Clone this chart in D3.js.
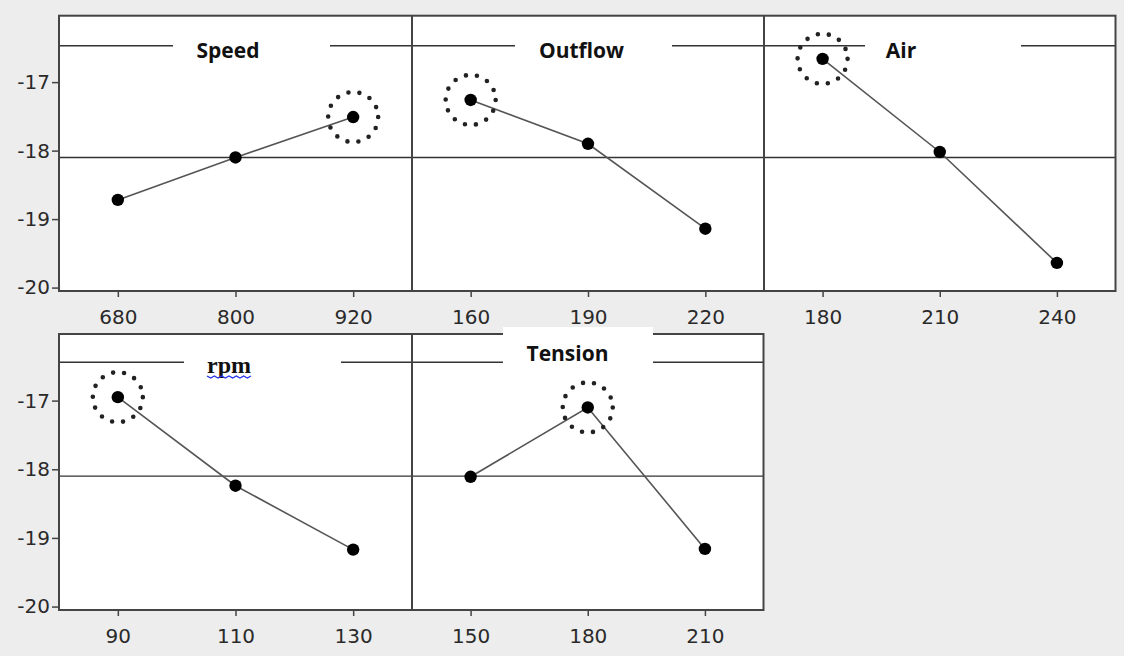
<!DOCTYPE html>
<html>
<head>
<meta charset="utf-8">
<script src="https://cdn.jsdelivr.net/npm/d3@7"></script>
<style>
  body { margin: 0; background: #ededed; }
  svg { display: block; }
  .tick text { font-family: "DejaVu Sans", sans-serif; font-size: 20px; fill: #2a2a2a; }
  .tick line { stroke: #444; stroke-width: 1.5; }
  .domain { display: none; }
</style>
</head>
<body>
<div id="chart"></div>
<script>
// factor names
var factors = ["Speed", "Outflow", "Air", "rpm", "Tension"];

// levels of each factor (x tick labels)
var speedLevels = [680, 800, 920];
var outflowLevels = [160, 190, 220];
var airLevels = [180, 210, 240];
var rpmLevels = [90, 110, 130];
var tensionLevels = [150, 180, 210];

// mean of S/N ratios at each level
var speedMeans = [-18.72, -18.10, -17.51];
var outflowMeans = [-17.26, -17.90, -19.14];
var airMeans = [-16.66, -18.02, -19.64];
var rpmMeans = [-16.95, -18.24, -19.17];
var tensionMeans = [-18.11, -17.10, -19.16];

// circled (optimal) level of each factor
var bestLevels = [920, 160, 180, 90, 180];

var grandMean = -18.1;
var yTicks = [-17, -18, -19, -20];
var yDomain = [-20.05, -16.03];

var allLevels = [speedLevels, outflowLevels, airLevels, rpmLevels, tensionLevels];
var allMeans = [speedMeans, outflowMeans, airMeans, rpmMeans, tensionMeans];

var svgWidth = 1124;
var svgHeight = 656;

// rows of panels
var rows = [
  { top: 15.7, bottom: 291, edges: [59, 412, 764, 1115.5], titleY: 30 },
  { top: 334, bottom: 610, edges: [59, 412, 763.5], titleY: 28.3 }
];

// where each title sits inside its panel (relative to panel left / top)
var titleLayout = [
  { row: 0, col: 0, cx: 169, base: 42, gap: [114, 271] },
  { row: 0, col: 1, cx: 169.5, base: 42, gap: [103, 260] },
  { row: 0, col: 2, cx: 137, base: 42, gap: [101, 257] },
  { row: 1, col: 0, cx: 170, base: 39, gap: [125, 282] },
  { row: 1, col: 1, cx: 155.5, base: 27, gap: [91, 241], box: true }
];

var svg = d3.select("#chart")
  .append("svg")
  .attr("width", svgWidth)
  .attr("height", svgHeight);

svg.append("rect")
  .attr("width", svgWidth)
  .attr("height", svgHeight)
  .attr("fill", "#ededed");

rows.forEach(function(r, ri) {
  var left = r.edges[0], right = r.edges[r.edges.length - 1];
  r.y = d3.scaleLinear().domain(yDomain).range([r.bottom, r.top]);

  var g = svg.append("g");
  r.g = g;

  // white plot area
  g.append("rect")
    .attr("x", left).attr("y", r.top)
    .attr("width", right - left).attr("height", r.bottom - r.top)
    .attr("fill", "white");

  // title line
  g.append("line")
    .attr("x1", left).attr("x2", right)
    .attr("y1", r.top + r.titleY).attr("y2", r.top + r.titleY)
    .attr("stroke", "#333").attr("stroke-width", 1.4);

  // gaps for titles
  titleLayout.filter(t => t.row == ri && !t.box).forEach(function(t) {
    var x0 = r.edges[t.col];
    g.append("rect")
      .attr("x", x0 + t.gap[0]).attr("y", r.top + r.titleY - 4)
      .attr("width", t.gap[1] - t.gap[0]).attr("height", 8)
      .attr("fill", "white");
  });

  // grand mean line
  g.append("line")
    .attr("x1", left).attr("x2", right)
    .attr("y1", r.y(grandMean)).attr("y2", r.y(grandMean))
    .attr("stroke", "#333").attr("stroke-width", 1.4);

  // y axis
  g.append("g")
    .attr("transform", `translate(${left},0)`)
    .call(d3.axisLeft(r.y).tickValues(yTicks).tickSize(7).tickPadding(2).tickFormat(d => d.toString()));
});

titleLayout.forEach(function(t, i) {
  var r = rows[t.row];
  var x0 = r.edges[t.col], x1 = r.edges[t.col + 1];
  var g = r.g;

  var x = d3.scalePoint()
    .domain(allLevels[i])
    .range([x0, x1])
    .padding(0.5);

  var pts = allLevels[i].map((lv, k) => [x(lv), r.y(allMeans[i][k])]);

  g.append("path")
    .attr("d", d3.line()(pts))
    .attr("fill", "none")
    .attr("stroke", "#555")
    .attr("stroke-width", 1.6);

  g.selectAll(null)
    .data(pts)
    .enter()
    .append("circle")
    .attr("cx", d => d[0])
    .attr("cy", d => d[1])
    .attr("r", 6.2)
    .attr("fill", "black");

  // dotted ring around the best level
  var bi = allLevels[i].indexOf(bestLevels[i]);
  g.append("circle")
    .attr("cx", x(bestLevels[i]))
    .attr("cy", r.y(allMeans[i][bi]))
    .attr("r", 25)
    .attr("fill", "none")
    .attr("stroke", "#222")
    .attr("stroke-width", 4.6)
    .attr("stroke-linecap", "round")
    .attr("stroke-dasharray", "0 " + (2 * Math.PI * 25 / 14));

  // x axis
  g.append("g")
    .attr("transform", `translate(0,${r.bottom})`)
    .call(d3.axisBottom(x).tickSize(6).tickPadding(13));
});

// frames
rows.forEach(function(r) {
  var left = r.edges[0], right = r.edges[r.edges.length - 1];
  r.g.append("rect")
    .attr("x", left).attr("y", r.top)
    .attr("width", right - left).attr("height", r.bottom - r.top)
    .attr("fill", "none")
    .attr("stroke", "#444")
    .attr("stroke-width", 2);
  r.edges.slice(1, -1).forEach(function(e) {
    r.g.append("line")
      .attr("x1", e).attr("x2", e)
      .attr("y1", r.top).attr("y2", r.bottom)
      .attr("stroke", "#444").attr("stroke-width", 2);
  });
});

// titles
titleLayout.forEach(function(t, i) {
  var r = rows[t.row];
  var x0 = r.edges[t.col];
  if (t.box) {
    svg.append("rect")
      .attr("x", x0 + t.gap[0]).attr("y", r.top - 7)
      .attr("width", t.gap[1] - t.gap[0]).attr("height", 38)
      .attr("fill", "white");
  }
  var txt = svg.append("text")
    .attr("x", x0 + t.cx)
    .attr("y", r.top + t.base)
    .attr("text-anchor", "middle")
    .attr("fill", "#111")
    .text(factors[i]);

  if (factors[i] == "rpm") {
    txt.attr("font-family", "'Liberation Serif', serif")
      .attr("font-weight", 700)
      .attr("font-size", "24px");
    // spell-check squiggle under rpm
    var bb = txt.node().getBBox();
    var zz = [];
    for (var k = 0; k <= 12; k++) {
      zz.push([bb.x + k * bb.width / 12, r.top + t.base + 3 + (k % 2 ? 2 : 0)]);
    }
    svg.append("path")
      .attr("d", d3.line()(zz))
      .attr("fill", "none")
      .attr("stroke", "#2233ee")
      .attr("stroke-width", 1.3);
  } else {
    txt.attr("font-family", "'Open Sans', sans-serif")
      .attr("font-weight", 700)
      .attr("font-size", "21px");
  }
});
</script>
</body>
</html>
